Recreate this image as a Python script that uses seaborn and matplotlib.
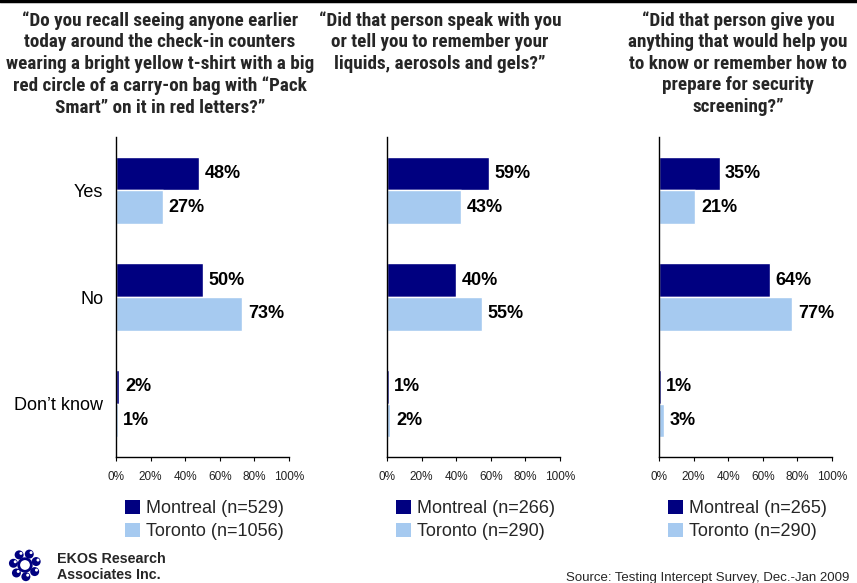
import matplotlib
matplotlib.use("Agg")
import matplotlib.pyplot as plt
import seaborn as sns
import pandas as pd
import numpy as np
from matplotlib.patches import Patch, Circle
from matplotlib.lines import Line2D
from matplotlib import font_manager

# ---- survey results -------------------------------------------------------
answers = ["Yes", "No", "Don\u2019t know"]
cities = ["Montreal", "Toronto"]

q1_montreal = [48, 50, 2]
q1_toronto = [27, 73, 1]
q2_montreal = [59, 40, 1]
q2_toronto = [43, 55, 2]
q3_montreal = [35, 64, 1]
q3_toronto = [21, 77, 3]

q1_title = ("\u201cDo you recall seeing anyone earlier\n"
            "today around the check-in counters\n"
            "wearing a bright yellow t-shirt with a big\n"
            "red circle of a carry-on bag with \u201cPack\n"
            "Smart\u201d on it in red letters?\u201d")
q2_title = ("\u201cDid that person speak with you\n"
            "or tell you to remember your\n"
            "liquids, aerosols and gels?\u201d")
q3_title = ("\u201cDid that person give you\n"
            "anything that would help you\n"
            "to know or remember how to\n"
            "prepare for security\n"
            "screening?\u201d")

q1_legend = ["Montreal (n=529)", "Toronto (n=1056)"]
q2_legend = ["Montreal (n=266)", "Toronto (n=290)"]
q3_legend = ["Montreal (n=265)", "Toronto (n=290)"]

x_ticks = [0, 20, 40, 60, 80, 100]
x_tick_labels = [f"{t}%" for t in x_ticks]

source_note = "Source: Testing Intercept Survey, Dec.-Jan 2009"
firm_name = "EKOS Research\nAssociates Inc."

# ---- styling ---------------------------------------------------------------
NAVY = "#000080"
LIGHT = "#A6CAF0"

sns.set_theme(style="white")
plt.rcParams["font.family"] = ["Liberation Sans", "DejaVu Sans"]

# prefer a narrow bold face for the question headings when one is available
installed = {f.name for f in font_manager.fontManager.ttflist}
narrow = [n for n in ("Liberation Sans Narrow", "Arial Narrow",
                      "Roboto Condensed", "Open Sans Condensed")
          if n in installed]
if narrow:
    TITLE_FONT = [narrow[0], "DejaVu Sans"]
    TITLE_SIZE = 13.8
else:
    TITLE_FONT = ["Liberation Sans", "DejaVu Sans"]
    TITLE_SIZE = 11
TITLE_LINE_PX = 21.0
TITLE_SPACING = TITLE_LINE_PX / (1.219 * TITLE_SIZE)

fig = plt.figure(figsize=(8.57, 5.83), dpi=100)
W, H = 857, 583


def fx(px):
    return px / W


def fy(py):
    return 1 - py / H


panels = [
    (q1_montreal, q1_toronto, q1_title, q1_legend, 116, 160),
    (q2_montreal, q2_toronto, q2_title, q2_legend, 387, 440),
    (q3_montreal, q3_toronto, q3_title, q3_legend, 659, 738),
]

ax_w = 173
ax_top, ax_bottom = 137, 457

for i, (mon, tor, title, leg, left_px, title_cx) in enumerate(panels):
    df = pd.DataFrame({
        "answer": answers * 2,
        "city": [cities[0]] * 3 + [cities[1]] * 3,
        "pct": list(mon) + list(tor),
    })
    ax = fig.add_axes([fx(left_px), fy(ax_bottom), fx(ax_w),
                       (ax_bottom - ax_top) / H])
    sns.barplot(data=df, x="pct", y="answer", hue="city", orient="h",
                order=answers, hue_order=cities,
                palette=[NAVY, LIGHT], saturation=1, width=0.63,
                legend=False, ax=ax)
    for cont in ax.containers:
        ax.bar_label(cont, fmt="%.0f%%", padding=4, fontsize=13,
                     fontweight="bold", color="black")
    ax.set_xlim(0, 100)
    ax.set_ylim(2.5, -0.5)
    ax.set_xticks(x_ticks)
    ax.set_xticklabels(x_tick_labels, fontsize=8.5, color="#222222")
    ax.set_xlabel("")
    ax.set_ylabel("")
    for s in ["top", "right"]:
        ax.spines[s].set_visible(False)
    for s in ["left", "bottom"]:
        ax.spines[s].set_color("black")
        ax.spines[s].set_linewidth(1.0)
    ax.tick_params(axis="x", direction="out", length=3, width=0.8,
                   color="black", bottom=True, pad=7)
    ax.tick_params(axis="y", length=0, pad=9)
    if i == 0:
        ax.set_yticks(range(len(answers)))
        ax.set_yticklabels(answers, fontsize=13, color="black")
    else:
        ax.set_yticks([])

    fig.text(fx(title_cx), fy(11), title, ha="center", va="top",
             fontsize=TITLE_SIZE, fontweight="bold", family=TITLE_FONT,
             linespacing=TITLE_SPACING)

    handles = [Patch(facecolor=NAVY, edgecolor="none"),
               Patch(facecolor=LIGHT, edgecolor="none")]
    fig.legend(handles, leg, loc="upper left",
               bbox_to_anchor=(fx(left_px + 9), fy(500)),
               frameon=False, fontsize=13, handlelength=0.85,
               handleheight=0.85, handletextpad=0.3, labelspacing=0.3,
               borderpad=0, borderaxespad=0)

# rule across the top of the page
fig.add_artist(Line2D([0, 1], [fy(1), fy(1)], color="black", lw=2.5,
                      transform=fig.transFigure))

# firm mark
logo = fig.add_axes([fx(4), fy(583), fx(42), 36 / H])
logo.set_xlim(-1.2, 1.2)
logo.set_ylim(-1.2, 1.2)
logo.set_aspect("equal")
logo.axis("off")
for k in range(7):
    a = 2 * np.pi * k / 7 + 0.3
    logo.add_patch(Circle((0.78 * np.cos(a), 0.78 * np.sin(a)), 0.3,
                          facecolor=NAVY, edgecolor="none"))
    logo.add_patch(Circle((0.78 * np.cos(a) + 0.12, 0.78 * np.sin(a) + 0.1),
                          0.1, facecolor="white", edgecolor="none"))
logo.add_patch(Circle((0, 0), 0.42, facecolor="white", edgecolor=NAVY, lw=2))

fig.text(fx(57), fy(567), firm_name, ha="left", va="center", fontsize=10.3,
         fontweight="bold", linespacing=1.2)
fig.text(fx(566), fy(578), source_note, ha="left", va="center", fontsize=9.5)

fig.savefig("out.png", dpi=100)
